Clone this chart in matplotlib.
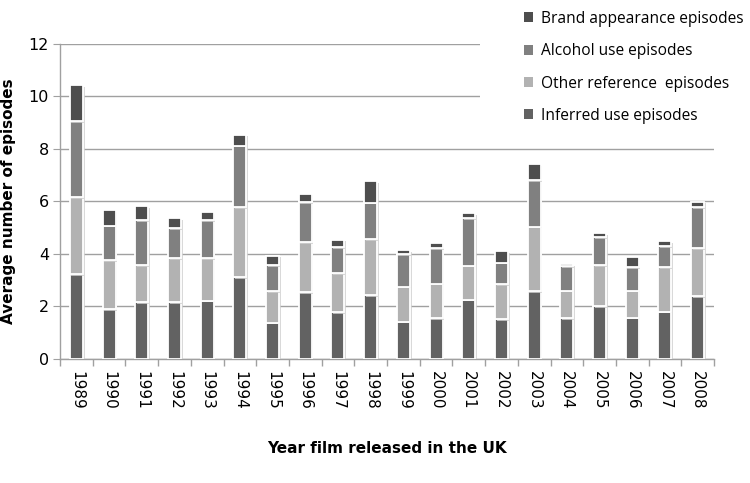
import matplotlib
matplotlib.use("Agg")
import matplotlib.pyplot as plt
import matplotlib.patheffects as pe
from matplotlib.patches import Rectangle
import numpy as np

years = ["1989", "1990", "1991", "1992", "1993", "1994", "1995", "1996", "1997", "1998",
         "1999", "2000", "2001", "2002", "2003", "2004", "2005", "2006", "2007", "2008"]
inferred = [3.24, 1.90, 2.16, 2.16, 2.22, 3.12, 1.38, 2.55, 1.79, 2.44,
            1.42, 1.56, 2.25, 1.51, 2.58, 1.54, 2.00, 1.57, 1.80, 2.40]
other = [2.92, 1.86, 1.40, 1.68, 1.62, 2.67, 1.21, 1.90, 1.48, 2.13,
         1.33, 1.31, 1.30, 1.33, 2.46, 1.06, 1.56, 1.03, 1.70, 1.82]
alcohol = [2.91, 1.32, 1.72, 1.14, 1.44, 2.34, 0.99, 1.53, 0.98, 1.38,
           1.23, 1.36, 1.81, 0.82, 1.76, 0.94, 1.08, 0.90, 0.80, 1.56]
brand = [1.36, 0.59, 0.53, 0.38, 0.32, 0.41, 0.35, 0.32, 0.29, 0.81,
         0.16, 0.20, 0.19, 0.44, 0.63, 0.08, 0.16, 0.37, 0.19, 0.21]

series = [("Inferred use episodes", inferred, "#626262"),
          ("Other reference  episodes", other, "#b2b2b2"),
          ("Alcohol use episodes", alcohol, "#808080"),
          ("Brand appearance episodes", brand, "#4e4e4e")]

fig = plt.figure(figsize=(7.5, 4.83), dpi=100)
ax = fig.add_axes([0.08, 0.257, 0.872, 0.652])

x = np.arange(len(years))
bottom = np.zeros(len(years))
handles = {}
for label, vals, col in series:
    bars = ax.bar(x, vals, 0.40, bottom=bottom, color=col, edgecolor="white",
                  linewidth=1.3, zorder=3, label=label)
    for b in bars:
        b.set_path_effects([pe.SimplePatchShadow(offset=(1.2, -1.2), shadow_rgbFace="#d0d0d0", alpha=0.8),
                            pe.Normal()])
    handles[label] = bars
    bottom += np.array(vals)

ax.set_xlim(-0.5, len(years) - 0.5)
ax.set_ylim(0, 12)
ax.set_yticks(np.arange(0, 13, 2))
ax.set_xticks(x)
ax.set_xticklabels(years, rotation=270, fontsize=11, family="DejaVu Sans")
ax.set_xticks(np.arange(-0.5, len(years), 1), minor=True)
ax.tick_params(axis="x", which="major", length=0, pad=9)
ax.tick_params(axis="x", which="minor", length=5, color="#a0a0a0", width=1)
ax.tick_params(axis="y", length=5, color="#a0a0a0", labelsize=11.5, pad=3)

ax.yaxis.grid(True, color="#a0a0a0", linewidth=1, zorder=0)
ax.set_axisbelow(True)
for s in ["top", "right"]:
    ax.spines[s].set_visible(False)
for s in ["left", "bottom"]:
    ax.spines[s].set_color("#a0a0a0")
    ax.spines[s].set_linewidth(1)

ax.set_ylabel("Average number of episodes", fontsize=11, fontweight="bold", labelpad=9)
ax.set_xlabel("Year film released in the UK", fontsize=11, fontweight="bold", labelpad=22)

# white legend area covering gridlines at top right
fig.patches.append(Rectangle((480 / 750, 1 - 130 / 483), 270 / 750, 130 / 483,
                             transform=fig.transFigure, facecolor="white",
                             edgecolor="none", zorder=5))

order = ["Brand appearance episodes", "Alcohol use episodes",
         "Other reference  episodes", "Inferred use episodes"]
leg = fig.legend([handles[k] for k in order], order, loc="upper left",
                 bbox_to_anchor=(513 / 750, 1.0), frameon=False,
                 handlelength=0.6, handleheight=0.6, handletextpad=0.5,
                 labelspacing=1.05, borderaxespad=0.3,
                 prop={"family": "Open Sans", "size": 11.2})
for h in leg.legend_handles:
    h.set_edgecolor("none")
    h.set_path_effects([])
leg.set_zorder(6)

fig.savefig("out.png", dpi=100)
